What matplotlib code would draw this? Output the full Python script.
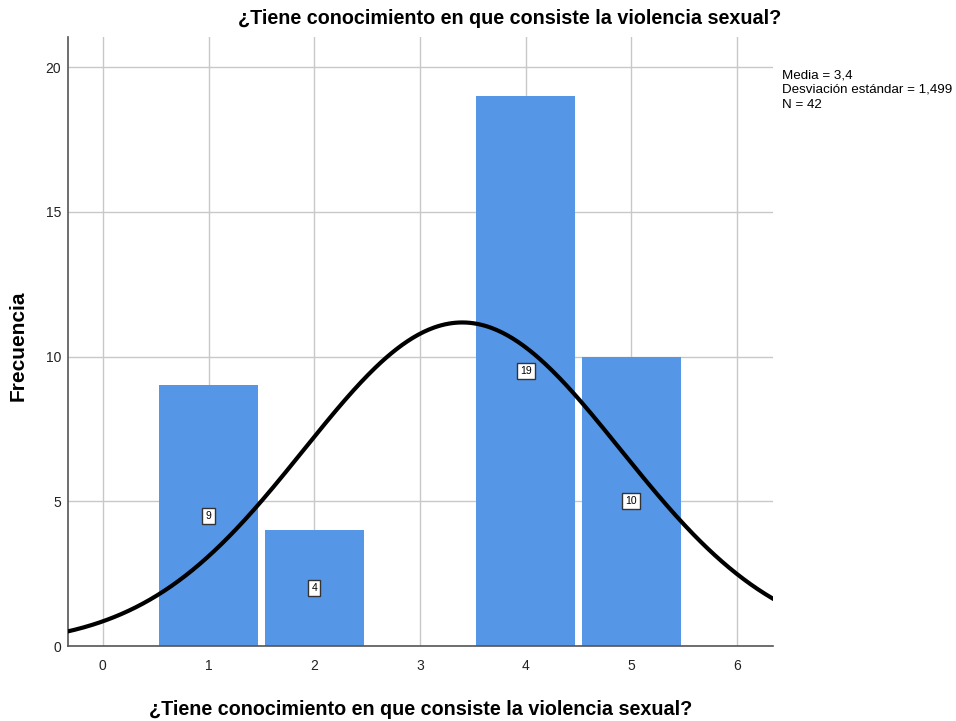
import numpy as np
import matplotlib.pyplot as plt

plt.rcParams['font.family'] = ['Liberation Sans', 'DejaVu Sans']

# bar data
categories = [1, 2, 4, 5]
counts = [9, 4, 19, 10]

# summary stats shown in the chart
media = 3.4
desv = 1.499
n = 42

title = "¿Tiene conocimiento en que consiste la violencia sexual?"
bar_color = '#5596e6'

fig = plt.figure(figsize=(9.56, 7.21), dpi=100)
ax = fig.add_axes([0.0711, 0.104, 0.7375, 0.8447])

ax.bar(categories, counts, width=0.94, color=bar_color, zorder=2)

# normal curve scaled to the histogram (bin width 1)
xs = np.linspace(-0.35, 6.4, 400)
ys = n / (desv * np.sqrt(2 * np.pi)) * np.exp(-0.5 * ((xs - media) / desv) ** 2)
ax.plot(xs, ys, color='black', lw=3, zorder=3)

for c, v in zip(categories, counts):
    ax.text(c, v / 2, str(v), ha='center', va='center', fontsize=7.5, zorder=4,
            bbox=dict(boxstyle='square,pad=0.3', fc='white', ec='#333333', lw=1))

ax.set_xlim(-0.33, 6.34)
ax.set_ylim(0, 21.04)
ax.set_xticks(range(0, 7))
ax.set_yticks([0, 5, 10, 15, 20])
ax.grid(True, color='#c8c8c8', lw=1, zorder=0)
ax.set_axisbelow(True)
ax.tick_params(length=0, labelsize=10, colors='#222222')
ax.tick_params(axis='x', pad=9)
ax.tick_params(axis='y', pad=5)
for s in ['top', 'right']:
    ax.spines[s].set_visible(False)
for s in ['left', 'bottom']:
    ax.spines[s].set_color('#555555')
    ax.spines[s].set_linewidth(1.2)

fig.text(510 / 956, 1 - 18 / 721, title, fontsize=14.2, fontweight='bold',
         ha='center', va='center')
ax.set_xlabel(title, fontsize=14.2, fontweight='bold', labelpad=20)
fig.text(18 / 956, 1 - 346 / 721, "Frecuencia", fontsize=15, fontweight='bold',
         rotation=90, ha='center', va='center')

fig.text(782 / 956, 1 - 69 / 721,
         "Media = 3,4\nDesviación estándar = 1,499\nN = 42",
         fontsize=9.6, va='top', ha='left', linespacing=1.32)

plt.savefig("out.png", dpi=100)
plt.close()
